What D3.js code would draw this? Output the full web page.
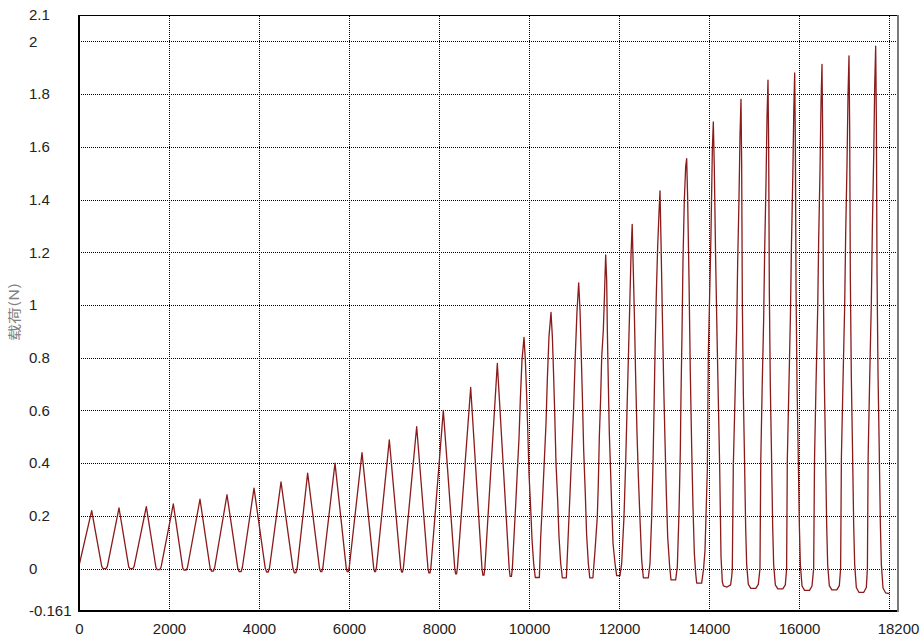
<!DOCTYPE html>
<html lang="zh">
<head>
  <meta charset="UTF-8">
  <title>载荷曲线</title>
  <script src="https://d3js.org/d3.v7.min.js"></script>
  <style>
    html, body {
      margin: 0;
      padding: 0;
      background: #fff;
    }

    svg {
      display: block;
      font-family: "Liberation Sans", Arial, sans-serif;
    }

    .grid line {
      stroke: #000;
      stroke-width: 1;
      stroke-dasharray: 1, 1;
      shape-rendering: crispEdges;
    }

    .grid .domain {
      display: none;
    }

    .tick-labels .domain,
    .tick-labels line {
      display: none;
    }

    .tick-labels text {
      font-size: 15px;
      fill: #222;
    }

    .curve {
      fill: none;
      stroke: #8b1a1a;
      stroke-width: 1.3;
      stroke-linejoin: round;
    }
  </style>
</head>
<body>
  <svg id="chart"></svg>
  <script>
    const xDomain = [0, 18200];
    const yDomain = [-0.161, 2.1];

    const xTickLabels = [0, 2000, 4000, 6000, 8000, 10000, 12000, 14000, 16000, 18200];
    const xGridValues = [2000, 4000, 6000, 8000, 10000, 12000, 14000, 16000, 18000];
    const yTickLabels = [-0.161, 0, 0.2, 0.4, 0.6, 0.8, 1, 1.2, 1.4, 1.6, 1.8, 2, 2.1];
    const yGridValues = [0, 0.2, 0.4, 0.6, 0.8, 1, 1.2, 1.4, 1.6, 1.8, 2];

    const yTitle = "载荷(N)";

    // [time, load], one line per loading cycle
    const loadCurve = [
      [0, 0.01], [282, 0.22], [505, 0.008], [535, 0], [600, 0], [630, 0.008],
      [889, 0.23], [1105, 0.006], [1135, 0], [1195, 0], [1225, 0.008],
      [1496, 0.235], [1710, 0.004], [1740, -0.004], [1795, -0.004], [1825, 0.006],
      [2096, 0.245], [2305, 0.002], [2335, -0.006], [2380, -0.006], [2410, 0.004],
      [2689, 0.263], [2915, 0], [2945, -0.01], [2985, -0.01], [3015, 0.004],
      [3289, 0.28], [3530, 0], [3560, -0.012], [3600, -0.012], [3630, 0.004],
      [3889, 0.305], [4140, 0], [4170, -0.013], [4205, -0.013], [4235, 0.004],
      [4489, 0.329], [4755, 0], [4785, -0.016], [4820, -0.016], [4850, 0.004],
      [5081, 0.362], [5345, 0], [5370, -0.012], [5395, -0.012], [5420, 0.004],
      [5689, 0.4], [5940, 0], [5962, -0.012], [5985, -0.012], [6005, 0.004],
      [6289, 0.44], [6550, 0], [6570, -0.012], [6590, -0.012], [6610, 0.004],
      [6896, 0.488], [7150, 0], [7170, -0.013], [7190, -0.013], [7210, 0.004],
      [7504, 0.538], [7755, 0], [7775, -0.016], [7800, -0.016], [7820, 0.004],
      [8096, 0.6], [8350, 0], [8370, -0.02], [8390, -0.02], [8410, 0.004],
      [8704, 0.687], [8955, 0], [8975, -0.025], [9000, -0.025], [9020, 0.004],
      [9296, 0.778], [9560, 0], [9580, -0.03], [9610, -0.03], [9630, 0],
      [9660, 0.1], [9705, 0.245], [9741, 0.37], [9778, 0.495], [9807, 0.64], [9844, 0.79], [9889, 0.877],
      [9919, 0.79], [9941, 0.69], [9970, 0.54], [10000, 0.36], [10037, 0.23], [10067, 0.11], [10104, 0.018], [10140, -0.034], [10230, -0.034],
      [10259, 0.115], [10304, 0.273], [10341, 0.412], [10378, 0.55], [10407, 0.715], [10444, 0.88], [10489, 0.972],
      [10519, 0.88], [10541, 0.766], [10570, 0.6], [10600, 0.4], [10637, 0.26], [10667, 0.12], [10704, 0.02], [10741, -0.035], [10830, -0.035],
      [10865, 0.1], [10910, 0.28], [10950, 0.44], [10990, 0.6], [11025, 0.79], [11065, 0.97], [11104, 1.084],
      [11134, 0.98], [11155, 0.85], [11185, 0.66], [11215, 0.45], [11250, 0.29], [11280, 0.13], [11318, 0.02], [11350, -0.035], [11420, -0.035],
      [11467, 0.068], [11518, 0.197], [11540, 0.32], [11563, 0.5], [11593, 0.652], [11615, 0.8], [11652, 0.905], [11674, 1.02], [11704, 1.19],
      [11726, 1.094], [11741, 0.905], [11763, 0.7], [11785, 0.513], [11815, 0.36], [11837, 0.235], [11867, 0.096], [11911, 0.02], [11948, -0.027], [12022, -0.027],
      [12060, 0.02], [12111, 0.197], [12148, 0.4], [12178, 0.6], [12207, 0.79], [12237, 0.985], [12267, 1.19], [12293, 1.306],
      [12311, 1.18], [12341, 0.968], [12370, 0.728], [12400, 0.513], [12430, 0.35], [12467, 0.185], [12504, 0.033], [12541, -0.035], [12652, -0.035],
      [12689, 0.02], [12726, 0.197], [12756, 0.4], [12778, 0.6], [12800, 0.816], [12830, 1.045], [12859, 1.22], [12889, 1.35], [12911, 1.433],
      [12933, 1.245], [12963, 0.968], [12993, 0.7], [13022, 0.487], [13052, 0.285], [13082, 0.12], [13126, 0.007], [13156, -0.043], [13259, -0.043],
      [13296, 0.007], [13333, 0.21], [13363, 0.45], [13378, 0.66], [13400, 0.89], [13422, 1.17], [13452, 1.4], [13482, 1.525], [13504, 1.555],
      [13526, 1.4], [13556, 1.094], [13585, 0.74], [13615, 0.46], [13644, 0.235], [13674, 0.058], [13704, -0.018], [13726, -0.055], [13837, -0.055],
      [13880, 0], [13911, 0.068], [13963, 0.374], [13985, 0.816], [14022, 1.094], [14044, 1.27], [14074, 1.587], [14096, 1.694],
      [14118, 1.52], [14148, 1.17], [14178, 0.89], [14207, 0.64], [14237, 0.387], [14267, 0.045], [14296, -0.05], [14320, -0.066], [14400, -0.07], [14480, -0.062], [14505, -0.03], [14518, 0],
      [14540, 0.387], [14578, 0.649], [14615, 0.911], [14637, 1.159], [14667, 1.407], [14689, 1.642], [14711, 1.78],
      [14726, 1.531], [14741, 1.008], [14763, 0.663], [14785, 0.456], [14815, 0.153], [14837, 0.015], [14874, -0.06], [14930, -0.075], [15040, -0.075], [15096, -0.06], [15133, 0],
      [15150, 0.4], [15180, 0.676], [15215, 0.949], [15237, 1.206], [15267, 1.464], [15289, 1.708], [15311, 1.853],
      [15326, 1.594], [15341, 1.049], [15363, 0.689], [15385, 0.474], [15415, 0.159], [15437, 0.015], [15474, -0.062], [15530, -0.077], [15640, -0.077], [15696, -0.062], [15725, 0],
      [15740, 0.41], [15775, 0.686], [15810, 0.963], [15832, 1.224], [15862, 1.485], [15884, 1.733], [15904, 1.88],
      [15919, 1.617], [15934, 1.064], [15956, 0.699], [15978, 0.481], [16008, 0.162], [16030, 0.015], [16067, -0.066], [16123, -0.083], [16233, -0.083], [16289, -0.066], [16326, 0],
      [16345, 0.415], [16378, 0.698], [16415, 0.98], [16437, 1.245], [16467, 1.511], [16489, 1.764], [16511, 1.913],
      [16526, 1.645], [16541, 1.083], [16563, 0.712], [16585, 0.49], [16615, 0.165], [16637, 0.015], [16674, -0.065], [16730, -0.081], [16840, -0.081], [16896, -0.065], [16925, 0],
      [16942, 0.42], [16978, 0.71], [17015, 0.996], [17037, 1.266], [17067, 1.536], [17089, 1.793], [17111, 1.945],
      [17126, 1.673], [17141, 1.101], [17163, 0.724], [17185, 0.498], [17215, 0.167], [17237, 0.016], [17274, -0.072], [17330, -0.09], [17440, -0.09], [17496, -0.072], [17520, 0],
      [17537, 0.43], [17571, 0.723], [17608, 1.015], [17630, 1.29], [17660, 1.565], [17682, 1.827], [17704, 1.982],
      [17719, 1.705], [17734, 1.122], [17756, 0.737], [17778, 0.507], [17808, 0.17], [17830, 0.016], [17867, -0.074], [17923, -0.092], [18005, -0.095]
    ];

    const width = 921;
    const height = 641;
    const margin = { top: 15, right: 23, bottom: 30, left: 79 };
    const plotW = width - margin.left - margin.right;
    const plotH = height - margin.top - margin.bottom;

    const svg = d3.select("#chart")
      .attr("width", width)
      .attr("height", height);

    const x = d3.scaleLinear().domain(xDomain).range([margin.left, margin.left + plotW]);
    const y = d3.scaleLinear().domain(yDomain).range([margin.top + plotH, margin.top]);

    // dotted grid
    svg.append("g")
      .attr("class", "grid")
      .attr("transform", `translate(0,${margin.top + plotH})`)
      .call(d3.axisBottom(x).tickValues(xGridValues).tickSize(-plotH).tickFormat(""));

    svg.append("g")
      .attr("class", "grid")
      .attr("transform", `translate(${margin.left},0)`)
      .call(d3.axisLeft(y).tickValues(yGridValues).tickSize(-plotW).tickFormat(""));

    // the load curve
    const line = d3.line()
      .x(d => x(d[0]))
      .y(d => y(d[1]));

    svg.append("path")
      .datum(loadCurve)
      .attr("class", "curve")
      .attr("d", line);

    // frame: dark on top/left/bottom, grey on the right
    const x0 = margin.left, x1 = margin.left + plotW;
    const y0 = margin.top, y1 = margin.top + plotH;
    const frame = svg.append("g").attr("shape-rendering", "crispEdges");
    frame.append("line").attr("x1", x0).attr("x2", x1).attr("y1", y0 + 0.5).attr("y2", y0 + 0.5)
      .attr("stroke", "#000").attr("stroke-width", 1);
    frame.append("line").attr("x1", x0).attr("x2", x0).attr("y1", y0).attr("y2", y1 + 1)
      .attr("stroke", "#000").attr("stroke-width", 2);
    frame.append("line").attr("x1", x0).attr("x2", x1 + 1).attr("y1", y1).attr("y2", y1)
      .attr("stroke", "#000").attr("stroke-width", 2);
    frame.append("line").attr("x1", x1).attr("x2", x1).attr("y1", y0).attr("y2", y1 + 1)
      .attr("stroke", "#7a7a7a").attr("stroke-width", 2);

    // tick labels
    const xAxis = svg.append("g")
      .attr("class", "tick-labels")
      .attr("transform", `translate(0,${y1})`)
      .call(d3.axisBottom(x).tickValues(xTickLabels).tickSize(0).tickPadding(12).tickFormat(d3.format("d")));
    xAxis.selectAll("text").attr("font-family", null).attr("font-size", null);

    const yAxis = svg.append("g")
      .attr("class", "tick-labels")
      .attr("transform", `translate(${x0},0)`)
      .call(d3.axisLeft(y).tickValues(yTickLabels).tickSize(0).tickFormat(d => String(d)));
    yAxis.selectAll("text")
      .attr("font-family", null)
      .attr("font-size", null)
      .attr("text-anchor", "start")
      .attr("x", 29 - x0);

    // axis title
    svg.append("text")
      .attr("transform", "translate(19,312) rotate(-90)")
      .attr("text-anchor", "middle")
      .attr("font-family", "'Noto Sans CJK SC', sans-serif")
      .attr("font-size", 13)
      .attr("textLength", 58)
      .attr("lengthAdjust", "spacingAndGlyphs")
      .attr("fill", "#808080")
      .text(yTitle);
  </script>
</body>
</html>
